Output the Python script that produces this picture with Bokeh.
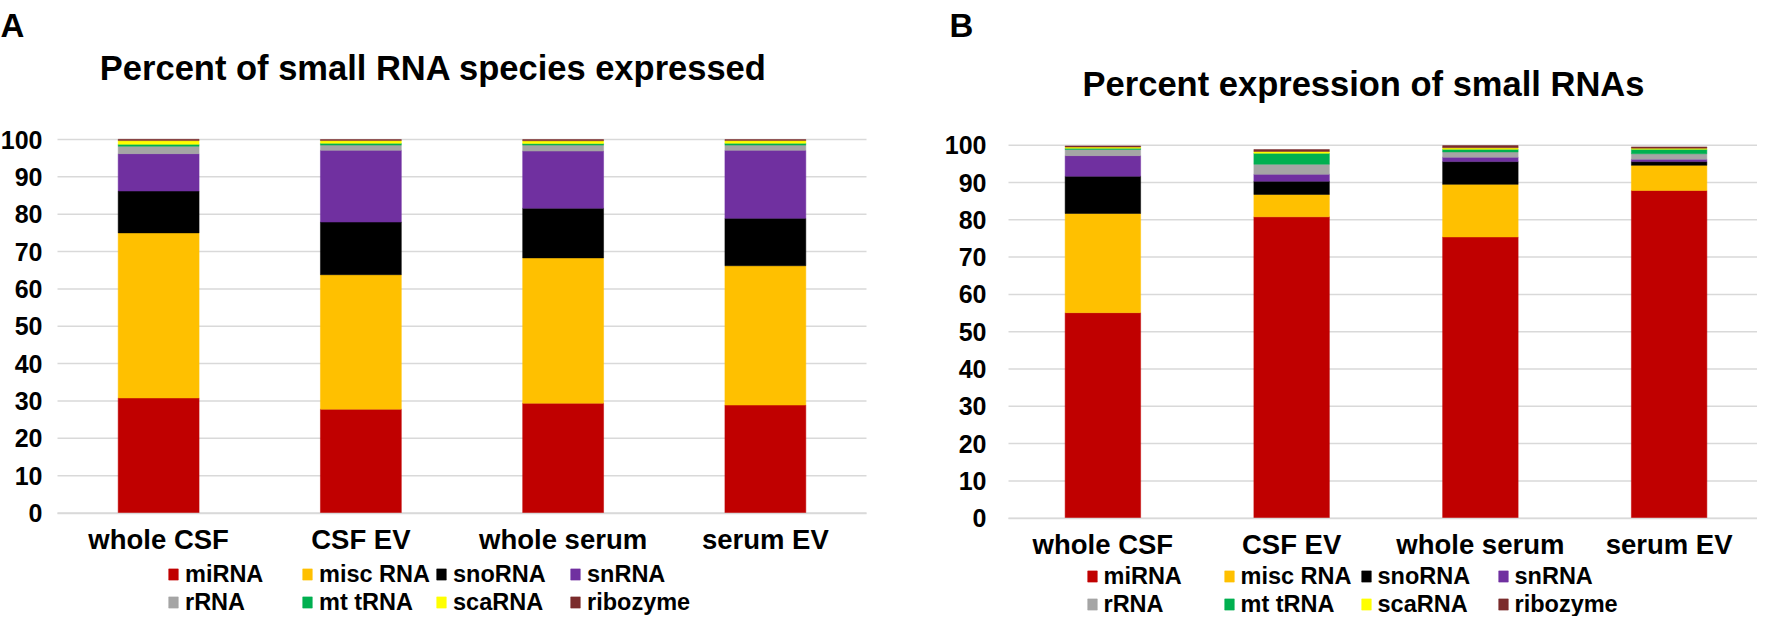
from bokeh.plotting import figure
from bokeh.layouts import row
from bokeh.models import ColumnDataSource, FixedTicker, Legend, LegendItem, Label, Range1d
from bokeh.embed import file_html
from bokeh.resources import INLINE

samples = ["whole CSF", "CSF EV", "whole serum", "serum EV"]
rna_types = ["miRNA", "misc RNA", "snoRNA", "snRNA", "rRNA", "mt tRNA", "scaRNA", "ribozyme"]
colors = ["#C00000", "#FFC000", "#000000", "#7030A0", "#A5A5A5", "#00B050", "#FFFF00", "#7B2C2C"]

# Panel A: percent of small RNA species expressed
a_mirna = [30.8, 27.8, 29.4, 28.9]
a_misc = [44.2, 36.0, 38.9, 37.3]
a_sno = [11.2, 14.1, 13.3, 12.7]
a_sn = [10.0, 19.2, 15.3, 18.2]
a_rrna = [2.0, 1.4, 1.6, 1.4]
a_mttrna = [0.5, 0.5, 0.4, 0.5]
a_sca = [1.0, 0.7, 0.75, 0.7]
a_ribo = [0.35, 0.3, 0.35, 0.3]

# Panel B: percent expression of small RNAs
b_mirna = [55.1, 80.8, 75.4, 87.85]
b_misc = [26.6, 6.0, 14.1, 6.75]
b_sno = [10.0, 3.55, 6.1, 1.0]
b_sn = [5.5, 1.85, 1.2, 0.65]
b_rrna = [1.65, 2.7, 1.4, 1.45]
b_mttrna = [0.35, 2.95, 0.7, 1.2]
b_sca = [0.3, 0.45, 0.4, 0.3]
b_ribo = [0.3, 0.55, 0.6, 0.35]

y_ticks = [0, 10, 20, 30, 40, 50, 60, 70, 80, 90, 100]

FONT = "Liberation Sans"
H = 616


def make_panel(title, letter, series, width, frame_l, frame_r, frame_t, frame_b,
               y_standoff, title_x, title_y, letter_x, letter_y, leg_x, leg_bottom, leg_lw):
    n = len(samples)
    xs = [i + 0.5 for i in range(n)]
    data = {"x": xs, "sample": samples}
    for name, vals in zip(rna_types, series):
        data[name] = vals
    src = ColumnDataSource(data)

    # ranges chosen so that the plotting area [0, n] x [0, 100] sits at the given pixels
    ux = (frame_r - frame_l) / n
    uy = (frame_b - frame_t) / 100.0
    x_range = Range1d(-frame_l / ux, (width - frame_l) / ux)
    y_range = Range1d(-(H - frame_b) / uy, 100 + frame_t / uy)

    p = figure(x_range=x_range, y_range=y_range, width=width, height=H,
               output_backend="svg", toolbar_location=None,
               min_border_left=0, min_border_right=0, min_border_top=0, min_border_bottom=0)
    p.outline_line_color = None
    p.background_fill_color = "white"
    p.xgrid.grid_line_color = None
    p.ygrid.grid_line_color = None

    # horizontal gridlines across the category area
    p.segment(x0=[0] * len(y_ticks), x1=[n] * len(y_ticks), y0=y_ticks, y1=y_ticks,
              line_color="#D9D9D9", line_width=1.5)

    rends = p.vbar_stack(rna_types, x="x", width=0.4, color=colors, source=src, line_width=0.5)

    p.yaxis.fixed_location = 0
    p.yaxis.ticker = FixedTicker(ticks=y_ticks)
    p.yaxis.axis_line_color = None
    p.yaxis.major_tick_line_color = None
    p.yaxis.minor_tick_line_color = None
    p.yaxis.major_tick_out = 0
    p.yaxis.major_tick_in = 0
    p.yaxis.major_label_standoff = y_standoff
    p.yaxis.major_label_text_font = FONT
    p.yaxis.major_label_text_font_style = "bold"
    p.yaxis.major_label_text_font_size = "25px"
    p.yaxis.major_label_text_color = "black"

    p.xaxis.fixed_location = 0
    p.xaxis.bounds = (0, n)
    p.xaxis.ticker = FixedTicker(ticks=xs)
    p.xaxis.major_label_overrides = {x: s for x, s in zip(xs, samples)}
    p.xaxis.axis_line_color = "#D9D9D9"
    p.xaxis.axis_line_width = 1.5
    p.xaxis.major_tick_line_color = None
    p.xaxis.minor_tick_line_color = None
    p.xaxis.major_tick_out = 0
    p.xaxis.major_tick_in = 0
    p.xaxis.major_label_standoff = 11
    p.xaxis.major_label_text_font = FONT
    p.xaxis.major_label_text_font_style = "bold"
    p.xaxis.major_label_text_font_size = "27.5px"
    p.xaxis.major_label_text_color = "black"

    p.add_layout(Label(x=title_x, y=H - title_y, x_units="screen", y_units="screen", text=title,
                       text_font=FONT, text_font_style="bold", text_font_size="34.5px",
                       text_align="center", text_baseline="alphabetic", text_color="black"))
    p.add_layout(Label(x=letter_x, y=H - letter_y, x_units="screen", y_units="screen", text=letter,
                       text_font=FONT, text_font_style="bold", text_font_size="33px",
                       text_align="left", text_baseline="alphabetic", text_color="black"))

    items = [LegendItem(label=nm, renderers=[r]) for nm, r in zip(rna_types, rends)]
    leg = Legend(items=items, location=(leg_x, H - leg_bottom), orientation="horizontal", ncols=4,
                 glyph_width=12, glyph_height=14, label_standoff=6, label_width=leg_lw,
                 label_height=28, spacing=0, padding=0, margin=0,
                 border_line_color=None, background_fill_alpha=0,
                 label_text_font=FONT, label_text_font_style="bold",
                 label_text_font_size="23.5px", label_text_color="black")
    p.add_layout(leg)
    return p


pa = make_panel("Percent of small RNA species expressed", "A",
                [a_mirna, a_misc, a_sno, a_sn, a_rrna, a_mttrna, a_sca, a_ribo],
                width=872, frame_l=57, frame_r=866, frame_t=139, frame_b=512.5,
                y_standoff=15, title_x=433, title_y=67, letter_x=0, letter_y=25,
                leg_x=167, leg_bottom=616, leg_lw=116)

pb = make_panel("Percent expression of small RNAs", "B",
                [b_mirna, b_misc, b_sno, b_sn, b_rrna, b_mttrna, b_sca, b_ribo],
                width=885, frame_l=136, frame_r=891, frame_t=144.7, frame_b=517.7,
                y_standoff=22, title_x=491, title_y=83.5, letter_x=77, letter_y=25,
                leg_x=213.5, leg_bottom=618, leg_lw=119)

layout = row(pa, pb)
open("out.html", "w").write(file_html(layout, INLINE))
